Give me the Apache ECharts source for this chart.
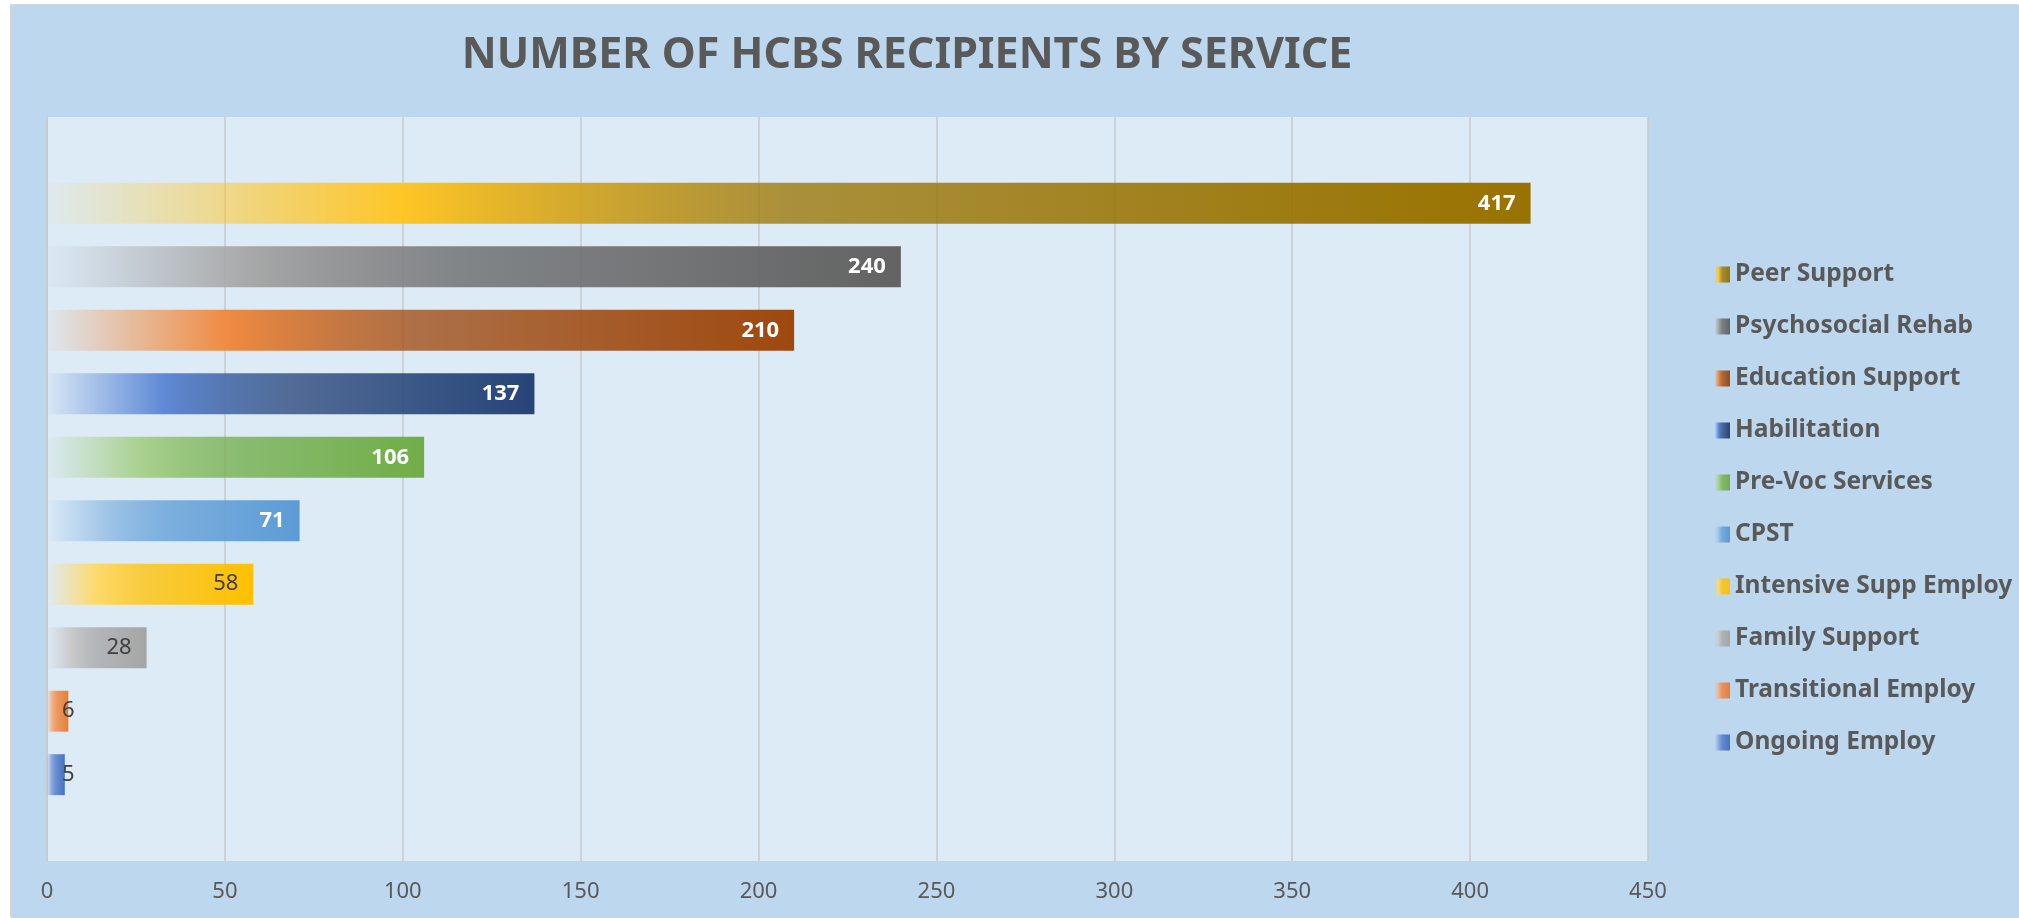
<!DOCTYPE html>
<html>
<head>
<meta charset="utf-8">
<script src="https://cdn.jsdelivr.net/npm/echarts@6/dist/echarts.min.js"></script>
<style>
html,body{margin:0;padding:0;background:#ffffff;width:2019px;height:918px;overflow:hidden}
#frame{position:absolute;left:11px;top:5px;width:2008px;height:913px;background:#BDD7EE;box-shadow:-1px -1px 0 #D6D6D6}
#chart{position:absolute;left:0;top:0;width:2008px;height:913px}
</style>
</head>
<body>
<div id="frame"><div id="chart"></div></div>
<script>
// ---- data ----
const services = ['Peer Support','Psychosocial Rehab','Education Support','Habilitation','Pre-Voc Services','CPST','Intensive Supp Employ','Family Support','Transitional Employ','Ongoing Employ'];
const recipients = [417, 240, 210, 137, 106, 71, 58, 28, 6, 5];
const axisMin = 0;
const axisMax = 450;
const axisStep = 50;
const chartTitle = 'NUMBER OF HCBS RECIPIENTS BY SERVICE';

// ---- styles (palette) ----
const midColors  = ['#FFC41F','#A5A5A5','#F0883C','#5A86D4','#A9D18E','#9DC3E6','#FFD966','#C9C9C9','#F4B183','#8FAADC'];
const endColors  = ['#997300','#636363','#9E480E','#264478','#70AD47','#5B9BD5','#FFC000','#A5A5A5','#ED7D31','#4472C4'];
const whiteLabel = [true, true, true, true, true, true, false, false, false, false];

const FONT = "'Noto Sans', 'Open Sans', sans-serif";

function hexA(h, a){
  const r = parseInt(h.slice(1,3),16), g = parseInt(h.slice(3,5),16), b = parseInt(h.slice(5,7),16);
  return 'rgba(' + r + ',' + g + ',' + b + ',' + a + ')';
}

const series = services.map(function(name, i){
  const small = recipients[i] < 10;
  return {
    name: name,
    type: 'bar',
    data: [recipients[i]],
    barGap: '55%',
    barCategoryGap: '17.7%',
    itemStyle: {
      color: new echarts.graphic.LinearGradient(0, 0, 1, 0, [
        {offset: 0, color: hexA(midColors[i], 0.04)},
        {offset: 0.24, color: hexA(midColors[i], 0.97)},
        {offset: 0.5, color: hexA(endColors[i], 0.76)},
        {offset: 1, color: hexA(endColors[i], 1)}
      ])
    },
    label: {
      show: true,
      position: small ? 'insideLeft' : 'insideRight',
      distance: 15,
      formatter: '{c}',
      fontFamily: FONT,
      fontSize: 22,
      fontWeight: whiteLabel[i] ? 'bold' : 'normal',
      color: whiteLabel[i] ? '#FFFFFF' : '#404040'
    },
    emphasis: {disabled: true}
  };
});

const chart = echarts.init(document.getElementById('chart'), null, {renderer: 'canvas'});
chart.setOption({
  backgroundColor: 'transparent',
  animation: false,
  title: {
    text: chartTitle,
    left: 896,
    top: 29,
    padding: 0,
    textAlign: 'center',
    textStyle: {fontFamily: FONT, fontSize: 43, fontWeight: 'bold', color: '#595959', lineHeight: 43}
  },
  legend: {
    orient: 'vertical',
    left: 1704,
    top: 257,
    padding: 0,
    itemWidth: 15,
    itemHeight: 16,
    itemGap: 27,
    icon: 'rect',
    data: services,
    selectedMode: false,
    textStyle: {fontFamily: FONT, fontSize: 24.5, fontWeight: 'bold', color: '#595959', lineHeight: 25}
  },
  grid: {
    left: 36, right: 371, top: 112, bottom: 57,
    show: true, backgroundColor: '#DDEBF7', borderWidth: 0,
    containLabel: false
  },
  xAxis: {
    type: 'value',
    min: axisMin, max: axisMax, interval: axisStep,
    axisLine: {show: false},
    axisTick: {show: false},
    axisLabel: {fontFamily: FONT, fontSize: 22, color: '#595959', margin: 20},
    splitLine: {show: true, lineStyle: {color: '#C6CACE', width: 1.5}}
  },
  yAxis: {
    type: 'category',
    data: [''],
    axisLine: {show: true, lineStyle: {color: '#C6CACE', width: 1.5}},
    axisTick: {show: false},
    axisLabel: {show: false},
    splitLine: {show: false}
  },
  series: series
});
</script>
</body>
</html>
